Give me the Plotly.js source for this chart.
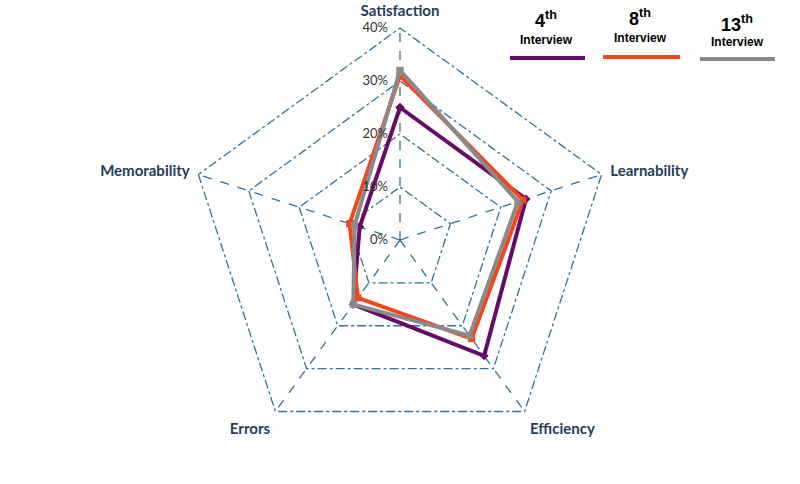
<!DOCTYPE html>
<html>
<head>
<meta charset="utf-8">
<script src="https://cdn.plot.ly/plotly-3.0.1.min.js"></script>
<style>html,body{margin:0;padding:0;background:#fff;}#chart{width:800px;height:484px;}</style>
</head>
<body>
<div id="chart"></div>
<script>
const categories = ["Satisfaction", "Learnability", "Efficiency", "Errors", "Memorability"];
const seriesNames = ["4th Interview", "8th Interview", "13th Interview"];
const interview4 = [25, 25, 27, 15, 8];
const interview8 = [31, 24.4, 23, 13.5, 10];
const interview13 = [32, 23.4, 22.3, 15, 9];
const radialTicks = [0, 10, 20, 30, 40];
const radialTickText = ["0%", "10%", "20%", "30%", "40%"];

const colors = ["#660a6b", "#f5461a", "#8a8a8a"];
const symbols = ["diamond", "square", "square"];
const allSeries = [interview4, interview8, interview13];

const traces = allSeries.map((vals, i) => ({
  type: "scatterpolar",
  name: seriesNames[i],
  r: vals.concat([vals[0]]),
  theta: categories.concat([categories[0]]),
  mode: "lines+markers",
  line: {color: colors[i], width: 4},
  marker: {color: colors[i], size: 7, symbol: symbols[i]},
  showlegend: false,
  hoverinfo: "skip"
}));

const gridColor = "#33729e";
const rMax = 40.3;
const R = 212 * rMax / 40;
const cx = 400, cyTop = 240;
const layout = {
  width: 800, height: 484,
  margin: {l: 0, r: 0, t: 0, b: 0},
  paper_bgcolor: "#fff",
  showlegend: false,
  polar: {
    domain: {x: [(cx - R)/800, (cx + R)/800], y: [(484 - cyTop - R)/484, (484 - cyTop + R)/484]},
    gridshape: "linear",
    bgcolor: "rgba(0,0,0,0)",
    radialaxis: {
      range: [0, rMax],
      tickvals: radialTicks,
      ticktext: radialTickText,
      angle: 90,
      tickangle: 90,
      side: "counterclockwise",
      showline: false,
      ticks: "outside",
      ticklen: 7,
      tickcolor: "rgba(0,0,0,0)",
      gridcolor: gridColor,
      gridwidth: 1.3,
      griddash: "dashdot",
      tickfont: {family: "Lato, 'Open Sans', sans-serif", size: 13, color: "#333"}
    },
    angularaxis: {
      direction: "clockwise",
      rotation: 90,
      showline: false,
      ticks: "outside",
      ticklen: 4,
      tickcolor: "rgba(0,0,0,0)",
      gridcolor: gridColor,
      gridwidth: 1.3,
      griddash: "dash",
      tickfont: {family: "Lato, 'Open Sans', sans-serif", size: 15, color: "#1f3d5c", weight: "bold"}
    }
  },
  annotations: [],
  shapes: []
};

// custom legend
const legendItems = [
  {num: "4", cx: 546, x0: 510, x1: 585, ly: 58, ny: 20, iy: 40},
  {num: "8", cx: 640, x0: 603, x1: 680, ly: 57, ny: 18, iy: 38},
  {num: "13", cx: 737, x0: 700, x1: 775, ly: 59, ny: 23, iy: 42}
];
legendItems.forEach((it, i) => {
  layout.annotations.push({
    xref: "paper", yref: "paper", x: it.cx/800, y: 1 - it.ny/484,
    text: "<b>" + it.num + "<sup>th</sup></b>", showarrow: false,
    xanchor: "center", yanchor: "middle",
    font: {family: "Liberation Sans, Arial, sans-serif", size: 18, color: "#000"}
  });
  layout.annotations.push({
    xref: "paper", yref: "paper", x: it.cx/800, y: 1 - it.iy/484,
    text: "<b>Interview</b>", showarrow: false,
    xanchor: "center", yanchor: "middle",
    font: {family: "Liberation Sans, Arial, sans-serif", size: 12, color: "#000"}
  });
  layout.shapes.push({
    type: "line", xref: "paper", yref: "paper",
    x0: it.x0/800, x1: it.x1/800, y0: 1 - it.ly/484, y1: 1 - it.ly/484,
    line: {color: colors[i], width: 4}
  });
});

Plotly.newPlot("chart", traces, layout, {displayModeBar: false, staticPlot: true});
</script>
</body>
</html>
